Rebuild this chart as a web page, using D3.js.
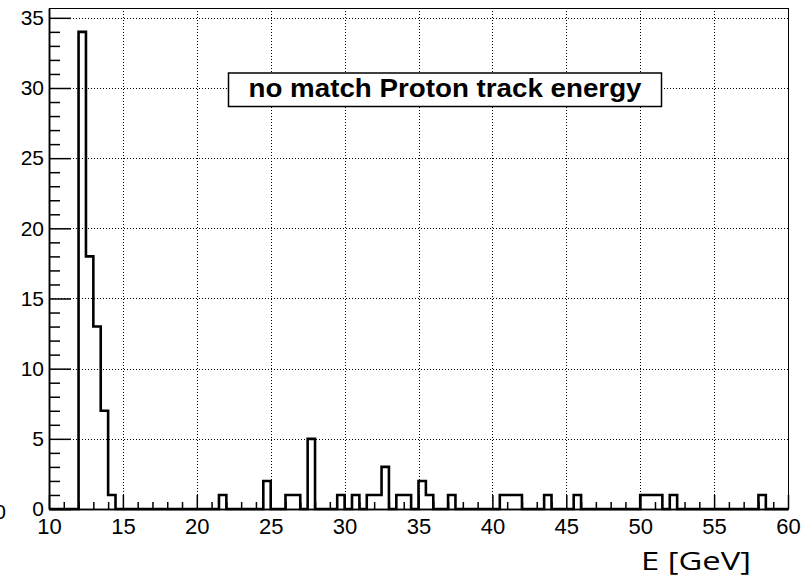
<!DOCTYPE html>
<html>
<head>
<meta charset="utf-8">
<script src="https://cdn.jsdelivr.net/npm/d3@7"></script>
<style>
  html, body { margin: 0; padding: 0; background: #fff; }
  svg { display: block; }
</style>
</head>
<body>
<svg id="chart" width="803" height="580"></svg>
<script>
// ---- data ----
const xMin = 10, xMax = 60, binWidth = 0.5;
const yMax = 35.7;
// counts per 0.5 GeV bin, from 10 to 60 GeV (100 bins)
const counts = [
  0, 0, 0, 0,            // 10.0 - 12.0
  34, 18, 13, 7, 1,      // 12.0 - 14.5
  0, 0, 0, 0, 0, 0, 0, 0, 0, 0, 0, 0, 0, 0, // 14.5 - 21.5
  1,                     // 21.5
  0, 0, 0, 0, 0,         // 22 - 24.5
  2,                     // 24.5
  0, 0,                  // 25 - 26
  1, 1,                  // 26 - 27
  0,                     // 27
  5,                     // 27.5
  0, 0, 0,               // 28 - 29.5
  1, 0, 1, 0,            // 29.5 - 31.5
  1, 1, 3,               // 31.5 - 33
  0,                     // 33
  1, 1,                  // 33.5 - 34.5
  0,                     // 34.5
  2, 1,                  // 35 - 36
  0, 0,                  // 36 - 37
  1,                     // 37
  0, 0, 0, 0, 0, 0,      // 37.5 - 40.5
  1, 1, 1,               // 40.5 - 42
  0, 0, 0,               // 42 - 43.5
  1,                     // 43.5
  0, 0, 0,               // 44 - 45.5
  1,                     // 45.5
  0, 0, 0, 0, 0, 0, 0, 0, // 46 - 50
  1, 1, 1,               // 50 - 51.5
  0,                     // 51.5
  1,                     // 52
  0, 0, 0, 0, 0, 0, 0, 0, 0, 0, 0, // 52.5 - 58
  1,                     // 58
  0, 0, 0                // 58.5 - 60
];
const xMajorTicks = [10, 15, 20, 25, 30, 35, 40, 45, 50, 55, 60];
const xMinorTicks = d3.range(11, 60, 1).filter(v => v % 5 !== 0);
const yMajorTicks = [0, 5, 10, 15, 20, 25, 30, 35];
const yMinorTicks = d3.range(1, 36, 1).filter(v => v % 5 !== 0);
const titleText = "no match Proton track energy";
const xAxisTitle = "E [GeV]";

// ---- layout ----
const L = 49, R = 788, T = 8, B = 509;
const svg = d3.select("#chart");

const x = d3.scaleLinear().domain([xMin, xMax]).range([L, R]);
const y = d3.scaleLinear().domain([0, yMax]).range([B, T]);

const font = "'Liberation Sans', Arial, Helvetica, sans-serif";

// grid
const grid = svg.append("g").attr("stroke", "#000").attr("stroke-width", 1)
  .attr("stroke-dasharray", "1,2").attr("shape-rendering", "crispEdges");
grid.selectAll("line.gx").data(xMajorTicks.filter(v => v > xMin && v < xMax))
  .join("line").attr("class", "gx")
  .attr("x1", d => Math.round(x(d)) + 0.5).attr("x2", d => Math.round(x(d)) + 0.5)
  .attr("y1", T).attr("y2", B);
grid.selectAll("line.gy").data(yMajorTicks.filter(v => v > 0))
  .join("line").attr("class", "gy")
  .attr("x1", L).attr("x2", R)
  .attr("y1", d => Math.round(y(d)) + 0.5).attr("y2", d => Math.round(y(d)) + 0.5);

// frame
svg.append("rect").attr("x", L + 0.5).attr("y", T + 0.5)
  .attr("width", R - L).attr("height", B - T)
  .attr("fill", "none").attr("stroke", "#000").attr("stroke-width", 1);

// axes
const xAxis = svg.append("g").attr("transform", `translate(0,${B})`)
  .call(d3.axisBottom(x).tickValues(xMajorTicks).tickSize(-14).tickSizeOuter(0).tickPadding(9));
const xAxisMinor = svg.append("g").attr("transform", `translate(0,${B})`)
  .call(d3.axisBottom(x).tickValues(xMinorTicks).tickSize(-7).tickSizeOuter(0).tickFormat(""));
const yAxis = svg.append("g").attr("transform", `translate(${L},0)`)
  .call(d3.axisLeft(y).tickValues(yMajorTicks).tickSize(-22).tickSizeOuter(0).tickPadding(5));
const yAxisMinor = svg.append("g").attr("transform", `translate(${L},0)`)
  .call(d3.axisLeft(y).tickValues(yMinorTicks).tickSize(-11).tickSizeOuter(0).tickFormat(""));

[xAxis, xAxisMinor, yAxis, yAxisMinor].forEach(g => {
  g.selectAll("path.domain").attr("stroke", "#000").attr("stroke-width", 1.5);
  g.selectAll(".tick line").attr("stroke", "#000").attr("stroke-width", 1.5);
});
xAxis.selectAll("text").attr("font-family", font).attr("font-size", 22).attr("fill", "#000");
yAxis.selectAll("text").attr("font-family", font).attr("font-size", 21).attr("fill", "#000");

// stray clipped label at the far left
svg.append("text").attr("x", 6).attr("y", 519).attr("text-anchor", "end")
  .attr("font-family", font).attr("font-size", 21).text("0");

// histogram outline
const pts = [[xMin, 0]];
counts.forEach((c, i) => { pts.push([xMin + i * binWidth, c]); });
pts.push([xMax, 0]);
const line = d3.line().x(d => x(d[0])).y(d => y(d[1])).curve(d3.curveStepAfter);
svg.append("path").datum(pts).attr("d", line)
  .attr("fill", "none").attr("stroke", "#000").attr("stroke-width", 2.6)
  .attr("stroke-linejoin", "miter");

// title box
const boxX = 228.5, boxY = 73, boxW = 433, boxH = 33.5;
svg.append("rect").attr("x", boxX).attr("y", boxY).attr("width", boxW).attr("height", boxH)
  .attr("fill", "#fff").attr("stroke", "#000").attr("stroke-width", 1.5);
svg.append("text").attr("x", boxX + boxW / 2).attr("y", 96.5)
  .attr("text-anchor", "middle").attr("font-family", font).attr("font-weight", "bold")
  .attr("font-size", 25).attr("textLength", 393).attr("lengthAdjust", "spacingAndGlyphs")
  .text(titleText);

// x axis title
svg.append("text").attr("x", 641).attr("y", 570)
  .attr("font-family", "'Open Sans', 'Noto Sans', sans-serif")
  .attr("font-size", 26).attr("textLength", 110).attr("lengthAdjust", "spacingAndGlyphs")
  .attr("fill", "#000").text(xAxisTitle);
</script>
</body>
</html>
